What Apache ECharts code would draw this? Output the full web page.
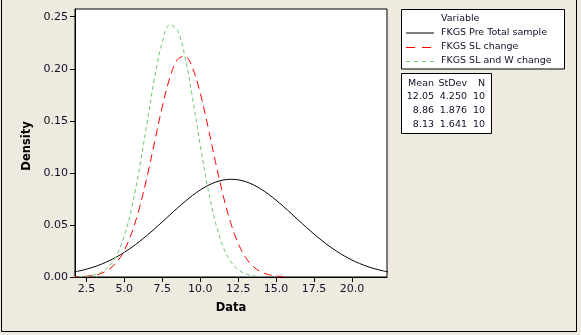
<!DOCTYPE html>
<html>
<head>
<meta charset="utf-8">
<script src="https://cdn.jsdelivr.net/npm/echarts@6/dist/echarts.min.js"></script>
<style>
  html, body { margin: 0; padding: 0; background: #ffffff; }
  #chart { width: 581px; height: 335px; }
</style>
</head>
<body>
<div id="chart"></div>
<script>
// Sample positions along the Data axis
const xs = [1.5, 2.0, 2.5, 3.0, 3.5, 4.0, 4.5, 5.0, 5.5, 6.0, 6.5, 7.0, 7.5, 8.0, 8.5,
            9.0, 9.5, 10.0, 10.5, 11.0, 11.5, 12.0, 12.5, 13.0, 13.5, 14.0, 14.5, 15.0,
            15.5, 16.0, 16.5, 17.0, 17.5, 18.0, 18.5, 19.0, 19.5, 20.0, 20.5, 21.0, 21.5,
            22.0, 22.5];

// Fitted density curves
const preTotal = [0.00431, 0.00573, 0.00752, 0.00973, 0.01240, 0.01561, 0.01937, 0.02372,
                  0.02863, 0.03408, 0.04001, 0.04634, 0.05292, 0.05961, 0.06623, 0.07256,
                  0.07841, 0.08356, 0.08783, 0.09105, 0.09309, 0.09386, 0.09334, 0.09155,
                  0.08856, 0.08449, 0.07950, 0.07378, 0.06752, 0.06095, 0.05426, 0.04764,
                  0.04125, 0.03523, 0.02968, 0.02465, 0.02020, 0.01632, 0.01301, 0.01022,
                  0.00792, 0.00606, 0.00457];
const slChange = [0.00010, 0.00027, 0.00068, 0.00162, 0.00359, 0.00742, 0.01428, 0.02561,
                  0.04277, 0.06652, 0.09639, 0.13009, 0.16351, 0.19145, 0.20878, 0.21207,
                  0.20064, 0.17681, 0.14512, 0.11095, 0.07900, 0.05240, 0.03237, 0.01863,
                  0.00998, 0.00498, 0.00232, 0.00100, 0.00040];
const slWChange = [0.00007, 0.00023, 0.00068, 0.00183, 0.00454, 0.01024, 0.02105, 0.03943,
                   0.06730, 0.10470, 0.14845, 0.19180, 0.22584, 0.24235, 0.23701, 0.21124,
                   0.17158, 0.12700, 0.08567, 0.05268, 0.02952, 0.01507, 0.00701, 0.00298,
                   0.00115, 0.00041];

// Axis tick labels
const xTicks = [2.5, 5.0, 7.5, 10.0, 12.5, 15.0, 17.5, 20.0];
const yTicks = [0.00, 0.05, 0.10, 0.15, 0.20, 0.25];

// Legend and summary table
const varNames = ['FKGS Pre Total sample', 'FKGS SL change', 'FKGS SL and W change'];
const means = ['12.05', '8.86', '8.13'];
const stdevs = ['4.250', '1.876', '1.641'];
const counts = ['10', '10', '10'];

const colors = ['#000000', '#ff0000', '#6cc86c'];
const dashes = [null, [8, 5], [4, 3]];
const legendDash = [null, [9, 7], [4, 4]];

const textColor = '#101028';
const font = 'DejaVu Sans';

function pairs(vals) {
  return vals.map((v, i) => [xs[i], v]);
}

const seriesVals = [preTotal, slChange, slWChange];
const series = seriesVals.map((vals, i) => ({
  type: 'line',
  data: pairs(vals),
  showSymbol: false,
  smooth: 0.35,
  clip: true,
  silent: true,
  lineStyle: { color: colors[i], width: 1, type: dashes[i] || 'solid' },
  z: 3 + i
}));

// Legend box and summary table drawn as graphics
const graphics = [];
graphics.push({
  type: 'rect', shape: { x: 1.5, y: -10, width: 575, height: 341.5 },
  style: { fill: null, stroke: '#000', lineWidth: 1 }, silent: true, z: 1
});
graphics.push({
  type: 'rect', shape: { x: 401.5, y: 9.5, width: 163, height: 59.5 },
  style: { fill: '#fff', stroke: '#000', lineWidth: 1 }, z: 5
});
graphics.push({
  type: 'text', x: 441, y: 19,
  style: { text: 'Variable', font: '9.5px "' + font + '"', fill: textColor, verticalAlign: 'middle' }, z: 6
});
const rowY = [32.5, 47, 61];
varNames.forEach((name, i) => {
  graphics.push({
    type: 'line', shape: { x1: 406, y1: rowY[i] + 0.5, x2: 434, y2: rowY[i] + 0.5 },
    style: { stroke: colors[i], lineWidth: 1, lineDash: legendDash[i] }, z: 6
  });
  graphics.push({
    type: 'text', x: 441, y: rowY[i],
    style: { text: name, font: '9.5px "' + font + '"', fill: textColor, verticalAlign: 'middle' }, z: 6
  });
});

graphics.push({
  type: 'rect', shape: { x: 401.5, y: 73.5, width: 90, height: 60 },
  style: { fill: '#fff', stroke: '#000', lineWidth: 1 }, z: 5
});
const colRight = [434, 467, 485];
const headers = ['Mean', 'StDev', 'N'];
const tableY = [83.5, 97, 111, 125];
headers.forEach((h, c) => {
  graphics.push({
    type: 'text', x: colRight[c], y: tableY[0],
    style: { text: h, font: '9.5px "' + font + '"', fill: textColor, align: 'right', verticalAlign: 'middle' }, z: 6
  });
});
means.forEach((m, r) => {
  [m, stdevs[r], counts[r]].forEach((v, c) => {
    graphics.push({
      type: 'text', x: colRight[c], y: tableY[r + 1],
      style: { text: v, font: '9.5px "' + font + '"', fill: textColor, align: 'right', verticalAlign: 'middle' }, z: 6
    });
  });
});

// Axis titles
graphics.push({
  type: 'text', x: 231, y: 308.5,
  style: { text: 'Data', font: 'bold 11.5px "' + font + '"', fill: '#000', align: 'center', verticalAlign: 'middle' }, z: 6
});
graphics.push({
  type: 'text', x: 27.5, y: 146, rotation: Math.PI / 2,
  style: { text: 'Density', font: 'bold 11.5px "' + font + '"', fill: '#000', align: 'center', verticalAlign: 'middle' }, z: 6
});

const chart = echarts.init(document.getElementById('chart'), null, { renderer: 'canvas' });
chart.setOption({
  backgroundColor: '#eeeae0',
  animation: false,
  grid: {
    left: 75, top: 9, right: 194, bottom: 58,
    show: true, backgroundColor: '#ffffff', borderColor: '#000', borderWidth: 1
  },
  xAxis: {
    type: 'value', min: 1.75, max: 22.31,
    axisLine: { show: true, lineStyle: { color: '#000', width: 1 } },
    axisTick: { show: true, length: 5, customValues: xTicks, lineStyle: { color: '#000' } },
    axisLabel: {
      customValues: xTicks, margin: 7, color: textColor,
      fontFamily: font, fontSize: 11,
      formatter: v => v.toFixed(1)
    },
    splitLine: { show: false }
  },
  yAxis: {
    type: 'value', min: 0, max: 0.2574,
    axisLine: { show: true, lineStyle: { color: '#000', width: 1 } },
    axisTick: { show: true, length: 5, customValues: yTicks, lineStyle: { color: '#000' } },
    axisLabel: {
      customValues: yTicks, margin: 7, color: textColor,
      fontFamily: font, fontSize: 11,
      formatter: v => v.toFixed(2)
    },
    splitLine: { show: false }
  },
  graphic: graphics,
  series: series
});
</script>
</body>
</html>
